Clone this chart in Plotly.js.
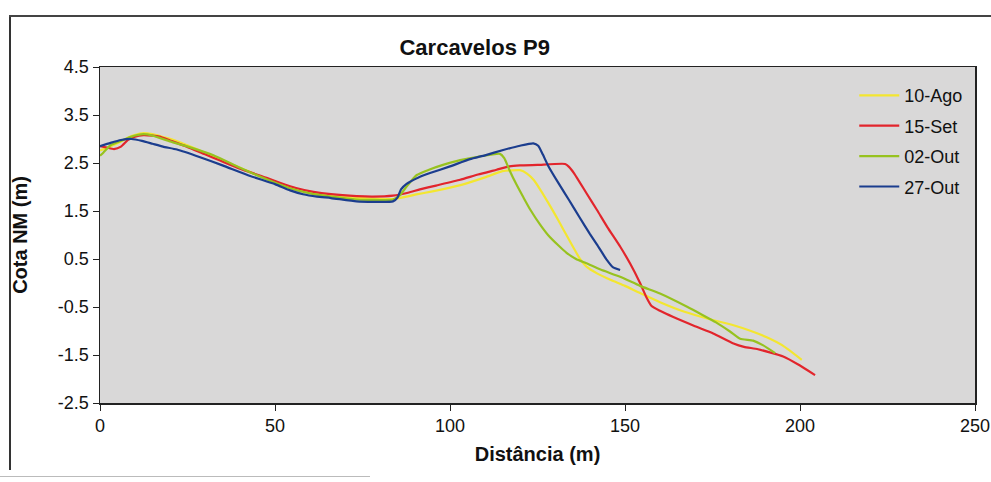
<!DOCTYPE html>
<html>
<head>
<meta charset="utf-8">
<script src="https://cdn.plot.ly/plotly-3.0.1.min.js"></script>
<style>
html,body{margin:0;padding:0;background:#fff;}
#wrap{position:relative;width:991px;height:482px;overflow:hidden;}
#chart{position:absolute;left:0;top:0;width:991px;height:482px;}
.fl{position:absolute;background:#333;pointer-events:none;}
</style>
</head>
<body>
<div id="wrap">
<div id="chart"></div>
<div class="fl" style="left:9px;top:15px;width:1.5px;height:455px;"></div>
<div class="fl" style="left:9px;top:15px;width:982px;height:1.5px;background:#444;"></div>
<div class="fl" style="left:0px;top:476px;width:370px;height:1px;background:#bbb;"></div>
</div>
<script>
// Series: 10-Ago
const x10Ago = [0,3,6,9,12,15,18,21,26,32,40,47.6,55,62,70,78,84,87,90,95,103,110,115,120,122,124,126,128,130,132.5,135,137,139,142,146,150,154,160,167,174,181,186,190.5,195,200.5];
const y10Ago = [2.76,2.85,2.95,3.06,3.12,3.1,3.04,2.98,2.84,2.65,2.4,2.17,1.98,1.86,1.79,1.76,1.75,1.79,1.84,1.91,2.04,2.2,2.33,2.35,2.28,2.14,1.92,1.68,1.43,1.1,0.77,0.52,0.34,0.2,0.06,-0.06,-0.2,-0.4,-0.6,-0.75,-0.88,-1.0,-1.13,-1.3,-1.6];

// Series: 15-Set
const x15Set = [0,2,4,6,8,10,12.4,15,17,20,24.8,30,34.3,40,47.6,51.4,56,61,66,73.3,78,83.7,88,91.4,96,102.9,108,113.3,117,120,125,132.9,134,135.5,139,142,145,148.6,151.5,154.3,156,157.6,160,163.8,170,175.2,181,184,188,195.2,200,204.3];
const y15Set = [2.85,2.82,2.79,2.84,2.98,3.05,3.08,3.07,3.05,2.97,2.84,2.68,2.55,2.38,2.19,2.09,1.98,1.9,1.85,1.81,1.8,1.82,1.88,1.95,2.03,2.15,2.26,2.36,2.43,2.45,2.46,2.48,2.42,2.28,1.87,1.52,1.16,0.76,0.4,0.0,-0.28,-0.48,-0.58,-0.71,-0.9,-1.05,-1.26,-1.33,-1.38,-1.53,-1.72,-1.92];

// Series: 02-Out
const x02Out = [0,1,3,6.7,9,12.4,15,20,26,32.4,40,47.6,54,61,66,73.3,78,83.7,85.7,87.6,90.5,94,98,102.9,108,114.3,115.5,117,119,121,123,125.7,128,131,133.3,136,139,143,148.6,154.3,160,167.6,172,176,180,182.9,186.6,189.5,192.9];
const y02Out = [2.65,2.72,2.87,2.98,3.05,3.1,3.07,2.95,2.82,2.66,2.4,2.16,1.98,1.85,1.8,1.74,1.73,1.74,1.83,2.01,2.25,2.36,2.46,2.56,2.63,2.69,2.6,2.35,2.05,1.78,1.52,1.22,1.0,0.78,0.63,0.5,0.41,0.28,0.13,-0.06,-0.22,-0.49,-0.66,-0.82,-1.01,-1.16,-1.2,-1.3,-1.46];

// Series: 27-Out
const x27Out = [0,3,6,9,12,15,18,22,28.6,35,42.9,50,54.3,58,62,66,73.3,78,83.7,85,86,87.5,91,94.3,100,105.7,110,115.2,120,123.8,125.2,126.5,128,131,134,137,140,142,144.8,146.5,148.6];
const y27Out = [2.85,2.92,2.98,3.0,2.96,2.9,2.84,2.78,2.62,2.45,2.23,2.06,1.93,1.85,1.8,1.77,1.7,1.69,1.7,1.78,1.95,2.06,2.2,2.29,2.43,2.58,2.66,2.77,2.86,2.91,2.86,2.68,2.45,2.08,1.73,1.37,1.02,0.8,0.48,0.33,0.27];

const seriesNames = ['10-Ago','15-Set','02-Out','27-Out'];
const seriesColors = ['#f3e630','#e2252c','#97c21f','#1b3d8e'];
const xs = [x10Ago, x15Set, x02Out, x27Out];
const ys = [y10Ago, y15Set, y02Out, y27Out];

const xTicks = [0,50,100,150,200,250];
const yTicks = [-2.5,-1.5,-0.5,0.5,1.5,2.5,3.5,4.5];

const traces = seriesNames.map((n,i)=>({
  x: xs[i], y: ys[i], name: n, type:'scatter', mode:'lines',
  line:{color:seriesColors[i], width:2.2, shape:'spline', smoothing:0.5},
  legendgroup:'g'+i
}));

const font = 'Arial, "Liberation Sans", Helvetica, sans-serif';
const layout = {
  width:991, height:482,
  margin:{l:100, r:16, t:67, b:79},
  paper_bgcolor:'rgba(0,0,0,0)',
  plot_bgcolor:'#d9d8d8',
  font:{family:font, color:'#111', size:18},
  title:{text:'<b>Carcavelos P9</b>', font:{family:font, size:22, color:'#111'}, x:0.479, xanchor:'center', y:0.902, yanchor:'middle'},
  showlegend:true,
  legend:{x:0.862, y:0.97, xanchor:'left', yanchor:'top', bgcolor:'rgba(0,0,0,0)', font:{family:font, size:18, color:'#111'}, traceorder:'grouped', tracegroupgap:4, itemwidth:40},
  xaxis:{range:[0,250], tickvals:xTicks, ticktext:xTicks.map(String), showgrid:false, zeroline:false,
    showline:true, mirror:true, linecolor:'#222', linewidth:1.5, ticks:'outside', ticklen:6, tickcolor:'#222',
    tickfont:{family:font, size:18, color:'#111'},
    title:{text:'<b>Distância (m)</b>', font:{family:font, size:20, color:'#111'}, standoff:12}},
  yaxis:{range:[-2.5,4.5], tickvals:yTicks, ticktext:yTicks.map(v=>v.toFixed(1)), showgrid:false, zeroline:false,
    showline:true, mirror:true, linecolor:'#222', linewidth:1.5, ticks:'outside', ticklen:6, tickcolor:'#222',
    tickfont:{family:font, size:18, color:'#111'},
    title:{text:'<b>Cota NM (m)</b>', font:{family:font, size:20, color:'#111'}, standoff:25}}
};
Plotly.newPlot('chart', traces, layout, {displayModeBar:false, staticPlot:true});
</script>
</body>
</html>
